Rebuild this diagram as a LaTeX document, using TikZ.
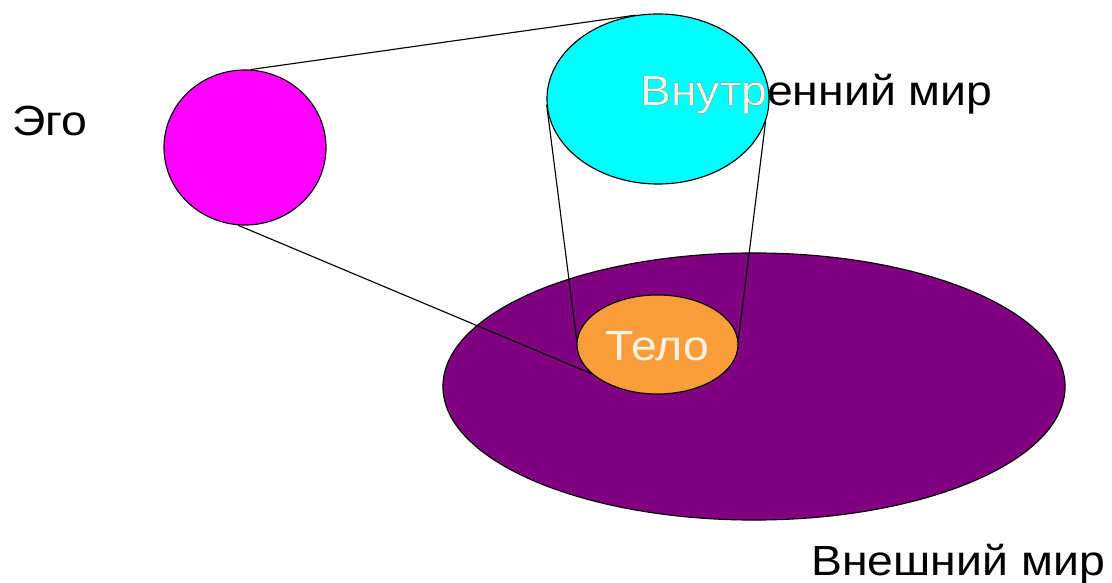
\documentclass[tikz,border=0pt]{standalone}
\usepackage{fontspec}
\setmainfont{Liberation Sans}
\usetikzlibrary{shapes.geometric}
\definecolor{egoc}{HTML}{FF00FF}
\definecolor{innerc}{HTML}{00FFFF}
\definecolor{outerc}{HTML}{800080}
\definecolor{bodyc}{HTML}{FB9D3A}
\definecolor{cream}{HTML}{F7F3E3}
\begin{document}
\begin{tikzpicture}[x=0.025cm,y=-0.025cm,
  blob/.style={ellipse, draw=black, line width=0.8pt, inner sep=0pt},
  lbl/.style={font=\fontsize{30}{34}\selectfont, inner sep=0pt},
  wide/.style={xscale=1.1, transform shape},
  conn/.style={draw=black, line width=0.8pt}]
\useasboundingbox (0,0) rectangle (1112,583);
\node[blob, fill=outerc, minimum width=15.55cm, minimum height=6.675cm] (outer) at (754,386.5) {};
\node[blob, fill=egoc, minimum width=4.05cm, minimum height=3.875cm] (ego) at (245,147.5) {};
\node[blob, fill=innerc, minimum width=5.55cm, minimum height=4.25cm] (inner) at (658,99) {};
\node[blob, fill=bodyc, minimum width=4.025cm, minimum height=2.475cm] (body) at (657.5,344.5) {};
\node[lbl, wide, text=cream] (bodylbl) at (657.5,346) {Тело};
\draw[conn] (ego.86) -- (inner.105);
\draw[conn] (ego.265) -- (body.204);
\draw[conn] (inner.183) -- (body.177);
\draw[conn] (inner.348) -- (body.3);
\node[lbl, wide, anchor=base west] (egolbl) at (12,136) {Эго};
\node[lbl, wide, anchor=base west] (innerlbl) at (640,106) {Внутренний мир};
\begin{scope}
  \clip (inner.center) ellipse [x radius=110, y radius=84];
  \node[lbl, wide, anchor=base west, text=cream] (innerlblw) at (640,106) {Внутренний мир};
\end{scope}
\node[lbl, wide, anchor=base west] (outerlbl) at (811,575) {Внешний мир};
\end{tikzpicture}
\end{document}
